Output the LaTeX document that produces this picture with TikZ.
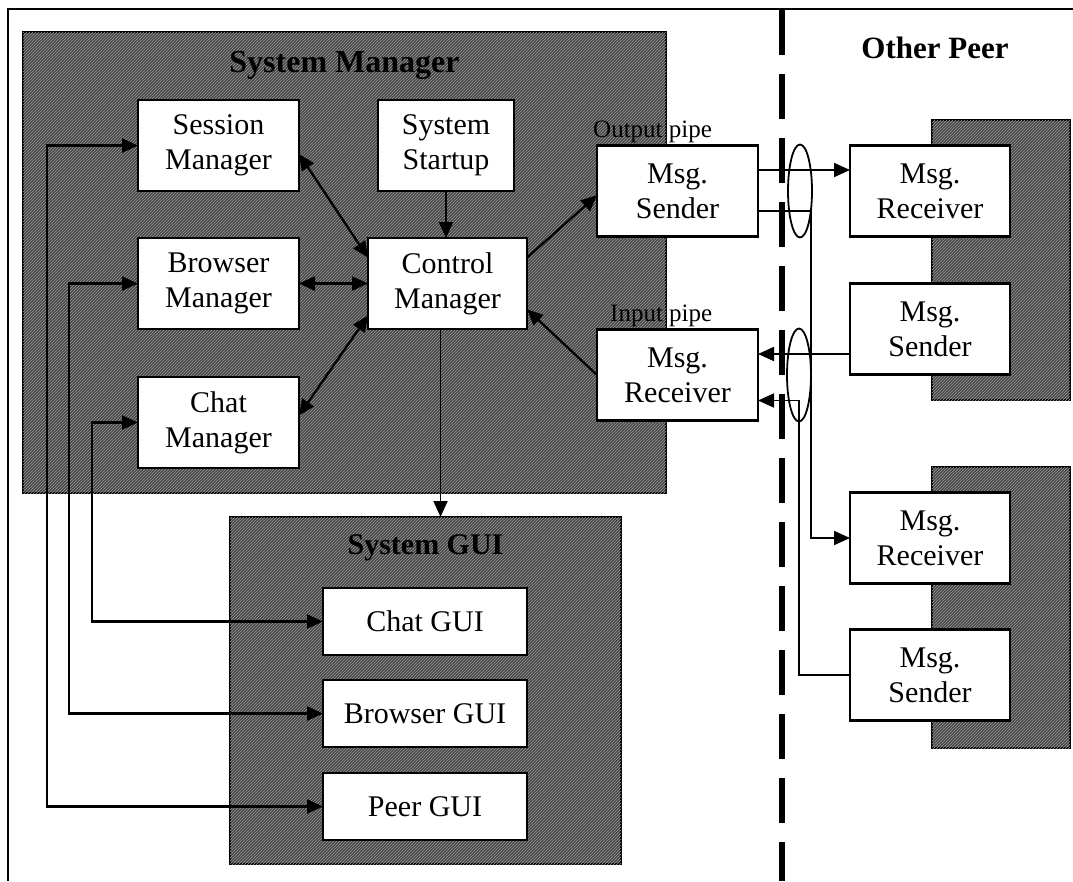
\documentclass[tikz,border=0pt]{standalone}
\usepackage{fontspec}
\setmainfont{Liberation Serif}
\usetikzlibrary{shapes.geometric, arrows.meta, positioning, backgrounds, patterns}
\tikzset{
    box/.style={
        rectangle, draw=black, line width=2.4pt, fill=white,
        minimum width=161pt, minimum height=91pt,
        inner sep=2pt, outer sep=0pt,
        align=center, font=\fontsize{30}{35}\selectfont
    },
    guibox/.style={box, minimum width=204pt, minimum height=67pt},
    panel/.style={
        rectangle, draw=black, line width=2.4pt, fill=black!72,
        postaction={pattern=north east lines, pattern color=black!40},
        inner sep=0pt, outer sep=0pt
    },
    arrow/.style={-{Triangle[length=16pt,width=14pt]}, line width=2.3pt},
    biarrow/.style={{Triangle[length=16pt,width=14pt]}-{Triangle[length=16pt,width=14pt]}, line width=2.3pt},
    thinarrow/.style={arrow, line width=1.8pt},
    grouplabel/.style={font=\fontsize{32}{36}\selectfont\bfseries},
    pipelabel/.style={font=\fontsize{25}{28}\selectfont, inner sep=0pt},
    pipering/.style={ellipse, draw=black, line width=1.8pt,
        minimum width=24pt, minimum height=93pt, inner sep=0pt, outer sep=0pt},
    separator/.style={line width=6pt, dash pattern=on 45pt off 19pt}
}

\begin{document}
\begin{tikzpicture}[x=1pt, y=-1pt]
\useasboundingbox (0,0) rectangle (1073,881);

% ── Frame and peer boundary ──────────────────────────────────────────────────
\draw[line width=2.2pt] (8,881) -- (8,9) -- (1073,9);
\draw[separator] (782,10) -- (782,881);

% ── System Manager ───────────────────────────────────────────────────────────
\node[box] (session) at (218.5,145.5) {Session\\Manager};
\node[box, below=47pt of session] (browser) {Browser\\Manager};
\node[box, below=48pt of browser] (chat) {Chat\\Manager};
\node[box, minimum width=136pt] (startup) at (446,145.5) {System\\Startup};
\node[box, minimum width=159pt, right=69pt of browser] (control) {Control\\Manager};

\node[box] (sender) at (677.5,191) {Msg.\\Sender};
\node[box, below=93pt of sender] (receiver) {Msg.\\Receiver};
\node[pipelabel, above right=2pt and -4pt of sender.north west] (outlabel) {Output pipe};
\node[pipelabel, above right=2pt and 13pt of receiver.north west] (inlabel) {Input pipe};

% ── System GUI ───────────────────────────────────────────────────────────────
\node[guibox] (chatgui) at (425,621.5) {Chat GUI};
\node[guibox, below=25pt of chatgui] (browsergui) {Browser GUI};
\node[guibox, below=26pt of browsergui] (peergui) {Peer GUI};

% ── Other Peer ───────────────────────────────────────────────────────────────
\node[box, minimum width=160pt, right=92pt of sender] (farrecvA) {Msg.\\Receiver};
\node[box, minimum width=160pt, below=47pt of farrecvA] (farsendA) {Msg.\\Sender};
\node[box, minimum width=160pt] (farrecvB) at (930,538) {Msg.\\Receiver};
\node[box, minimum width=160pt, below=46pt of farrecvB] (farsendB) {Msg.\\Sender};

\node[pipering, right=30pt of sender] (outring) {};
\node[pipering, right=29pt of receiver] (inring) {};

\begin{scope}[on background layer]
\node[panel, minimum width=643pt, minimum height=461pt] (sysmgr) at (344.5,262.5) {};
\node[panel, minimum width=391pt, minimum height=347pt] (sysgui) at (425.5,690.5) {};
\node[panel, minimum width=138pt, minimum height=280pt] (peerA) at (1001,260) {};
\node[panel, minimum width=138pt, minimum height=281pt] (peerB) at (1001,607.5) {};
\end{scope}

\node[grouplabel] (smtitle) at (344.5,65) {System Manager};
\node[grouplabel, font=\fontsize{30}{34}\selectfont\bfseries] (sgtitle) at (425.5,548) {System GUI};
\node[grouplabel, font=\fontsize{31}{34}\selectfont\bfseries] (peertitle) at (935,48) {Other Peer};

% ── Arrows: inside System Manager ────────────────────────────────────────────
\draw[thinarrow] (startup.south) -- (startup.south |- control.north);
\draw[biarrow] (session.-6) -- (control.162);
\draw[biarrow] (browser.east) -- (control.west);
\draw[biarrow] (chat.5) -- (control.-158);
\draw[arrow] (control.18) -- (sender.183);
\draw[arrow] (receiver.west) -- (control.-18);
\draw[thinarrow] ([xshift=-7pt]control.south) -- ([xshift=-7pt]control.south |- sysgui.north);

% ── Arrows: managers <-> GUIs ────────────────────────────────────────────────
\draw[biarrow] (session.west) -- ++(-91,0) |- (peergui.west);
\draw[biarrow] (browser.west) -- ++(-69,0) |- (browsergui.west);
\draw[biarrow] (chat.west)    -- ++(-46,0) |- (chatgui.west);

% ── Arrows: pipes to the other peer ──────────────────────────────────────────
\draw[thinarrow] ([yshift=21pt]sender.east) -- ([yshift=21pt]farrecvA.west);
\draw[thinarrow] ([yshift=-20pt]sender.east) -- ++(53,0) |- (farrecvB.west);
\draw[thinarrow] ([yshift=-25pt]farsendA.west) -- ([yshift=-25pt]farsendA.west -| receiver.east);
\draw[thinarrow] (farsendB.west) -- ++(-51,0) |- ([yshift=-25.5pt]receiver.east);

\end{tikzpicture}
\end{document}
